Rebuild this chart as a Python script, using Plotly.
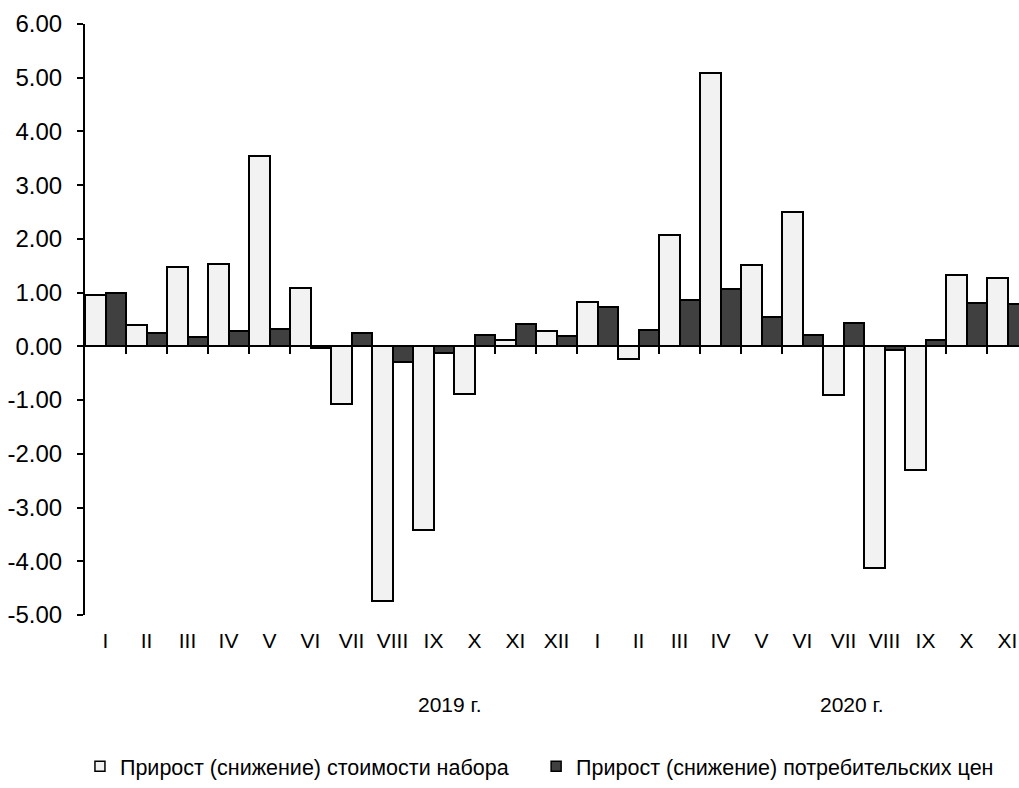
import plotly.graph_objects as go

months = ["I", "II", "III", "IV", "V", "VI", "VII", "VIII", "IX", "X", "XI", "XII",
          "I", "II", "III", "IV", "V", "VI", "VII", "VIII", "IX", "X", "XI"]
basket = [0.96, 0.39, 1.47, 1.54, 3.55, 1.09, -1.07, -4.74, -3.41, -0.88, 0.12, 0.28,
          0.83, -0.23, 2.07, 5.08, 1.51, 2.50, -0.90, -4.12, -2.31, 1.32, 1.27]
cpi = [0.99, 0.25, 0.17, 0.28, 0.33, -0.03, 0.25, -0.29, -0.12, 0.22, 0.41, 0.20,
       0.74, 0.31, 0.86, 1.07, 0.55, 0.22, 0.43, -0.06, 0.11, 0.80, 0.78]
y_ticks = [-5, -4, -3, -2, -1, 0, 1, 2, 3, 4, 5, 6]
y_ticktext = ["-5.00", "-4.00", "-3.00", "-2.00", "-1.00", "0.00",
              "1.00", "2.00", "3.00", "4.00", "5.00", "6.00"]
years = ["2019 г.", "2020 г."]
year_pos = [8.4, 18.2]
name_basket = "Прирост (снижение) стоимости набора"
name_cpi = "Прирост (снижение) потребительских цен"

FONT = "Liberation Sans, Arial, sans-serif"
idx = list(range(len(months)))
xr = [-0.5, 22.28]

fig = go.Figure()
fig.add_trace(go.Bar(x=idx, y=basket, name=name_basket, showlegend=False,
                     marker=dict(color="#f2f2f2", line=dict(color="#000000", width=2))))
fig.add_trace(go.Bar(x=idx, y=cpi, name=name_cpi, showlegend=False,
                     marker=dict(color="#404040", line=dict(color="#000000", width=2))))
# legend entries
fig.add_trace(go.Scatter(x=[None], y=[None], mode="markers", name=name_basket, legend="legend",
                         marker=dict(symbol="square", size=10, color="#f2f2f2",
                                     line=dict(color="#000000", width=1.5))))
fig.add_trace(go.Scatter(x=[None], y=[None], mode="markers", name=name_cpi, legend="legend2",
                         marker=dict(symbol="square", size=10, color="#404040",
                                     line=dict(color="#000000", width=1.5))))
# helper trace for the zero-crossing category axis
fig.add_trace(go.Scatter(x=[0], y=[0], xaxis="x2", mode="markers", marker=dict(opacity=0),
                         showlegend=False, hoverinfo="skip"))

for name, xp in zip(years, year_pos):
    fig.add_annotation(x=xp, y=-0.152, xref="x", yref="paper", text=name, showarrow=False,
                       yanchor="middle", font=dict(family=FONT, size=21, color="#000000"))

fig.update_layout(
    width=1019, height=788,
    margin=dict(l=85, r=0, t=24, b=173),
    paper_bgcolor="white", plot_bgcolor="white",
    barmode="group", bargap=0, bargroupgap=0,
    font=dict(family=FONT, color="#000000"),
    xaxis=dict(range=xr, tickmode="array", tickvals=idx, ticktext=months,
               showline=False, ticks="", showgrid=False, zeroline=False,
               tickfont=dict(size=21), ticklabelstandoff=11, automargin=False),
    xaxis2=dict(range=xr, overlaying="x", anchor="free", position=5/11,
                tickmode="array", tickvals=[i + 0.5 for i in idx], showticklabels=False,
                ticks="outside", ticklen=7, tickwidth=2, tickcolor="#000000",
                showline=True, linecolor="#000000", linewidth=2,
                showgrid=False, zeroline=False, layer="below traces", automargin=False),
    yaxis=dict(range=[-5, 6], tickmode="array", tickvals=y_ticks, ticktext=y_ticktext,
               showgrid=False, zeroline=False,
               showline=True, linecolor="#000000", linewidth=2,
               ticks="outside", ticklen=6, tickwidth=2, tickcolor="#000000",
               tickfont=dict(size=24), ticklabelstandoff=10, automargin=False),
    legend=dict(orientation="h", x=-0.0054, y=-0.256, xanchor="left", yanchor="middle",
                font=dict(size=21.5), itemwidth=30),
    legend2=dict(orientation="h", x=0.483, y=-0.256, xanchor="left", yanchor="middle",
                 font=dict(size=21.5), itemwidth=30),
)

fig.write_html("out.html", config={"displayModeBar": False},
               post_script="document.body.style.margin='0';document.body.style.overflow='hidden';")
